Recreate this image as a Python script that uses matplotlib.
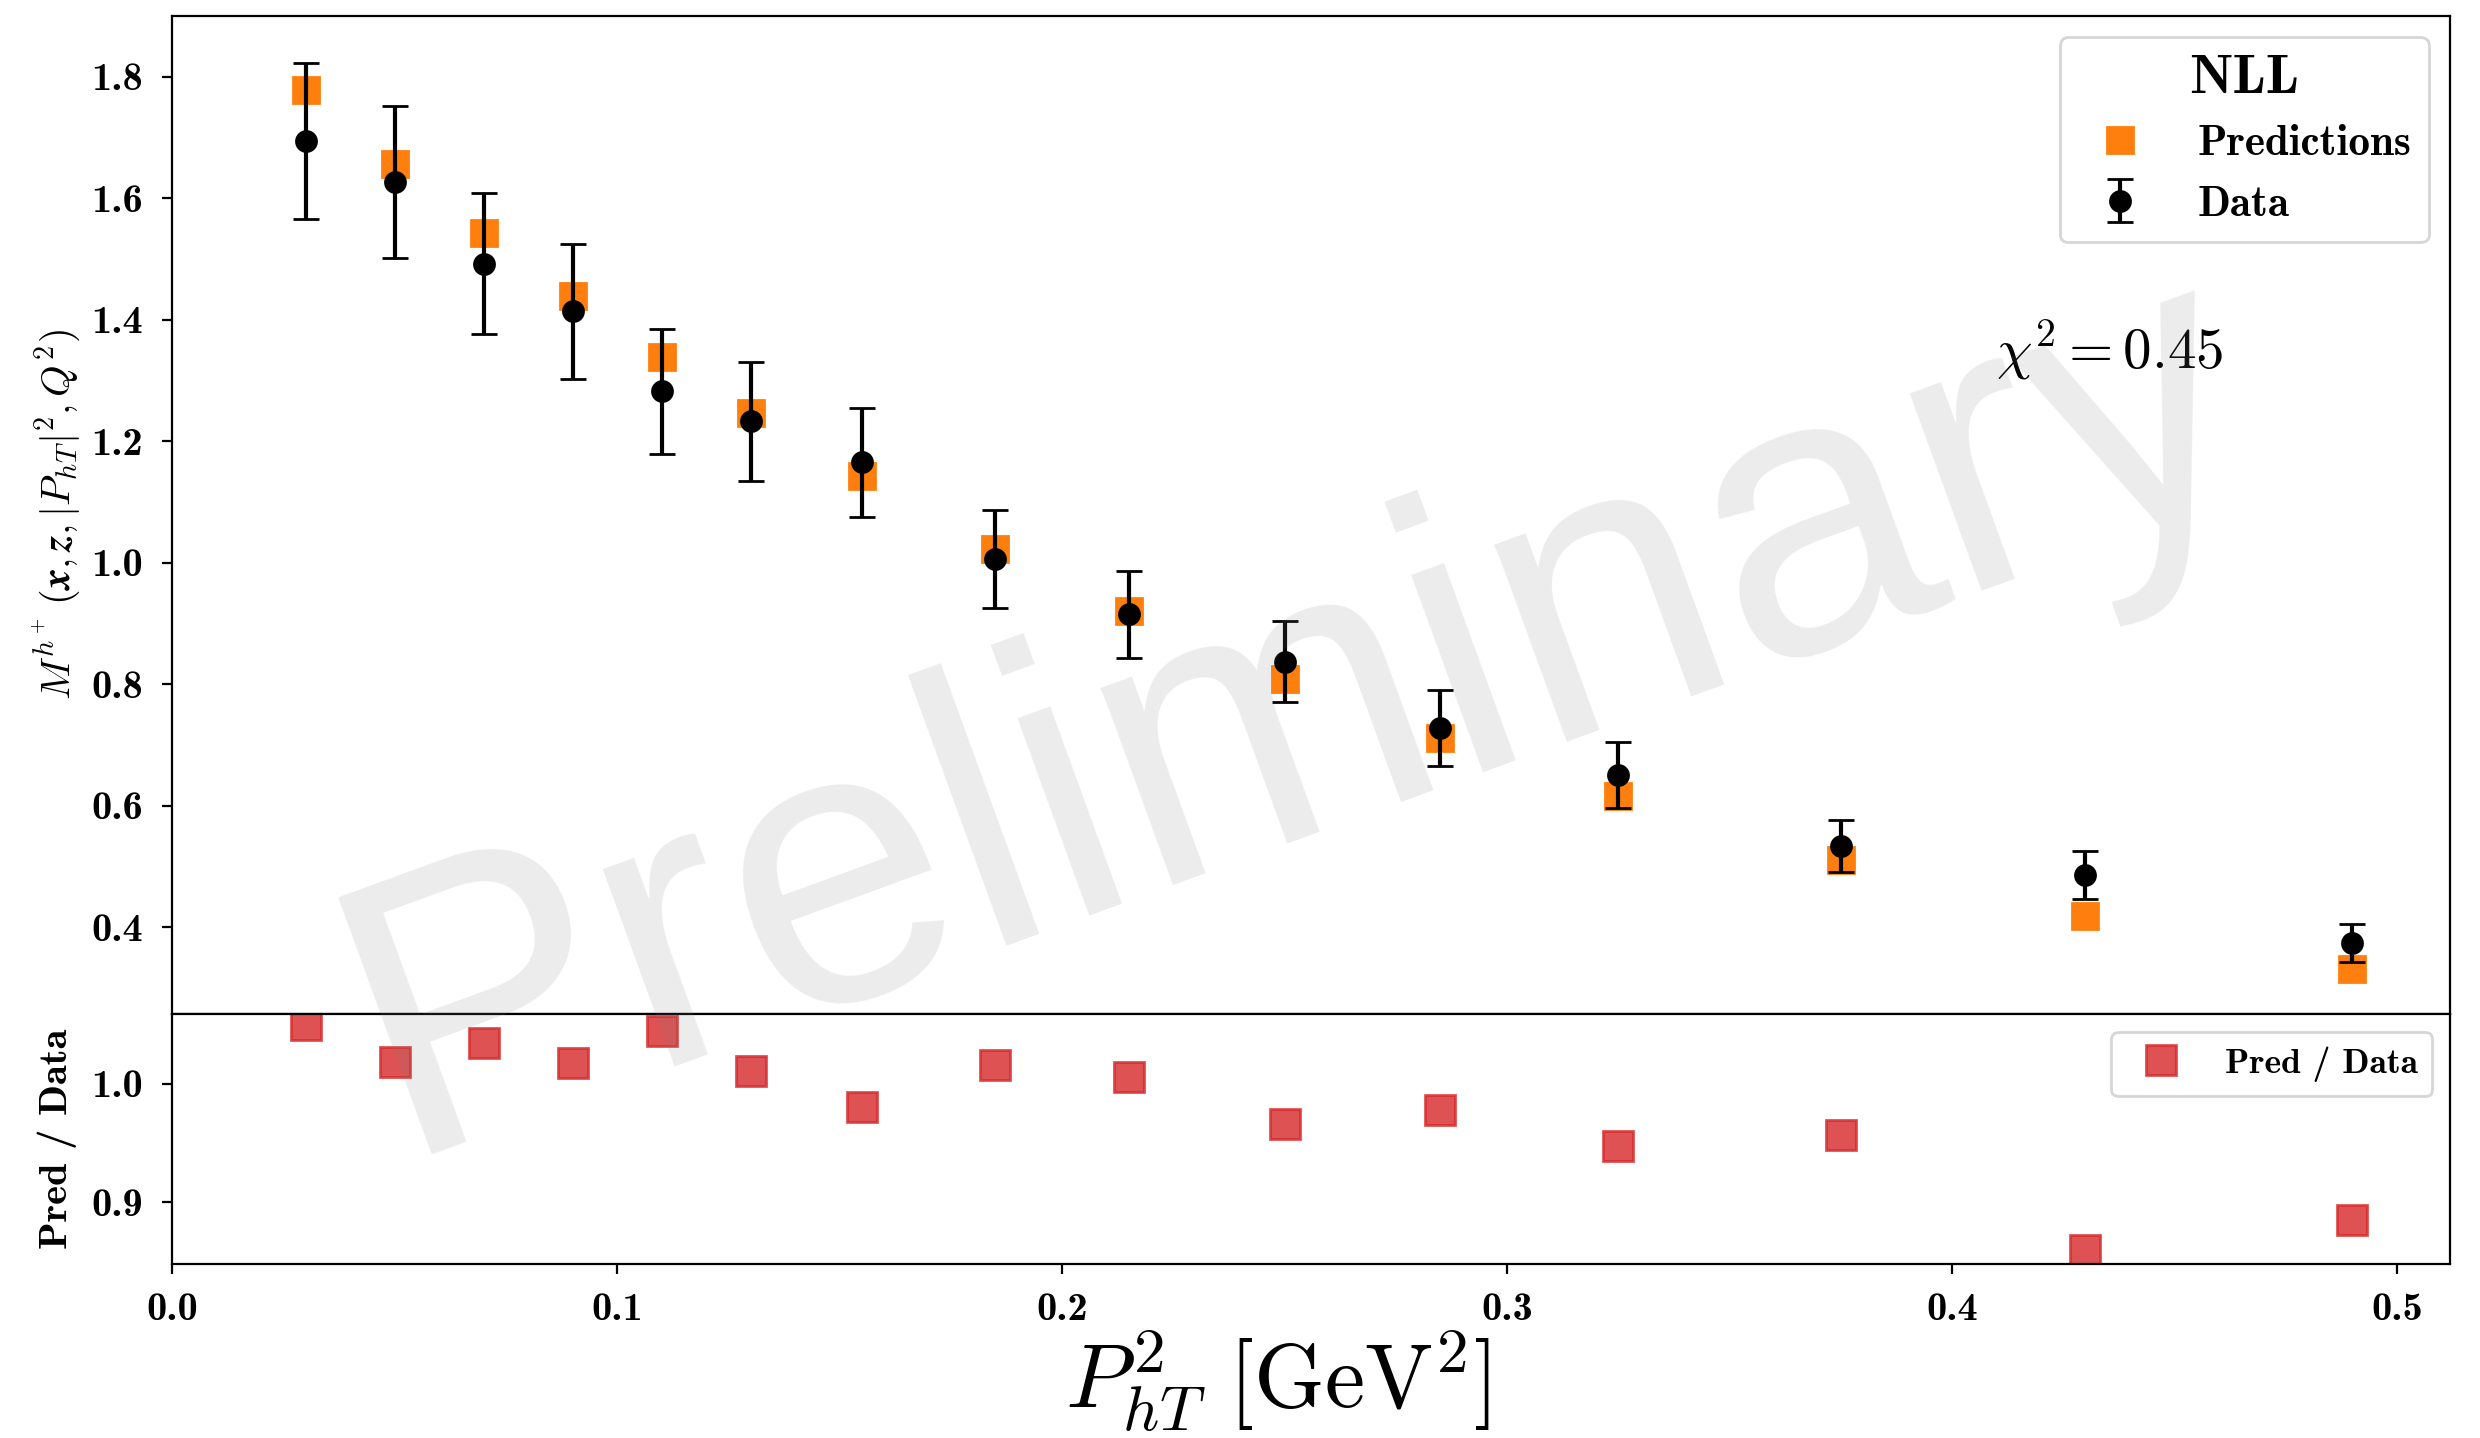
import matplotlib
matplotlib.use("Agg")
import matplotlib.pyplot as plt
import numpy as np

plt.rcParams['font.family'] = 'serif'
plt.rcParams['font.serif'] = ['cmb10']
plt.rcParams['mathtext.fontset'] = 'cm'
plt.rcParams['axes.unicode_minus'] = False
plt.rcParams['axes.formatter.use_mathtext'] = False

# P_hT^2 bins
pt2 = [0.03, 0.05, 0.07, 0.09, 0.11, 0.13, 0.155, 0.185, 0.215, 0.25, 0.285, 0.325, 0.375, 0.43, 0.49]
data = [1.694, 1.626, 1.492, 1.414, 1.282, 1.233, 1.165, 1.006, 0.915, 0.837, 0.728, 0.650, 0.533, 0.486, 0.374]
data_err = [0.129, 0.125, 0.116, 0.111, 0.103, 0.098, 0.090, 0.080, 0.072, 0.067, 0.062, 0.054, 0.043, 0.040, 0.032]
pred = [1.778, 1.656, 1.543, 1.439, 1.339, 1.246, 1.142, 1.022, 0.920, 0.809, 0.712, 0.616, 0.510, 0.418, 0.331]
chi2 = 0.45

ratio = np.array(pred) / np.array(data)

fig = plt.figure(figsize=(12.4, 7.19), dpi=200)
gs = fig.add_gridspec(2, 1, height_ratios=[631, 158], hspace=0,
                      left=0.0695, right=0.988, top=0.989, bottom=0.121)
ax = fig.add_subplot(gs[0])
axr = fig.add_subplot(gs[1], sharex=ax)

ax.plot(pt2, pred, 's', color='tab:orange', ms=9.3, label='Predictions', zorder=2)
ax.errorbar(pt2, data, yerr=data_err, fmt='o', color='black', ms=7.2,
            elinewidth=1.5, capsize=4.7, capthick=1.0, label='Data', zorder=3)

ax.set_xlim(0, 0.512)
ax.set_ylim(0.257, 1.9)
ax.set_yticks([0.4, 0.6, 0.8, 1.0, 1.2, 1.4, 1.6, 1.8])
ax.tick_params(axis='x', length=0, labelbottom=False)
ax.tick_params(axis='y', labelsize=14.5, pad=7)
ax.set_ylabel(r'$\boldsymbol{M^{h^+}\,(x,z,|P_{hT}|^2,Q^2)}$', fontsize=14.5)
ax.yaxis.set_label_coords(-0.0396, 0.5)

ax.legend(loc='upper right', title='NLL', fontsize=15.5,
          title_fontproperties={'size': 20, 'family': 'cmb10'})

ax.text(0.41, 1.35, r'$\chi^2 = %.2f$' % chi2, fontsize=20.5, va='center')

axr.plot(pt2, ratio, 's', color='tab:red', alpha=0.8, ms=10.8, label='Pred / Data')
axr.set_ylim(0.848, 1.059)
axr.set_yticks([0.9, 1.0])
axr.set_xticks([0.0, 0.1, 0.2, 0.3, 0.4, 0.5])
axr.tick_params(labelsize=14.5, pad=7)
axr.set_ylabel('Pred / Data', fontsize=14.6)
axr.yaxis.set_label_coords(-0.042, 0.5)
axr.set_xlabel(r'$P_{hT}^2\ [\mathrm{GeV}^2]$', fontsize=32.5, labelpad=0, x=0.485)
axr.legend(loc='upper right', fontsize=12.8)

ax.yaxis.set_major_formatter(matplotlib.ticker.FormatStrFormatter('%.1f'))
axr.yaxis.set_major_formatter(matplotlib.ticker.FormatStrFormatter('%.1f'))
axr.xaxis.set_major_formatter(matplotlib.ticker.FormatStrFormatter('%.1f'))

fig.text(0.523, 0.50, 'Preliminary', fontsize=143, color='gray', alpha=0.15,
         rotation=20, ha='center', va='center', family='Liberation Sans', zorder=10)

fig.savefig('out.png', dpi=200)
